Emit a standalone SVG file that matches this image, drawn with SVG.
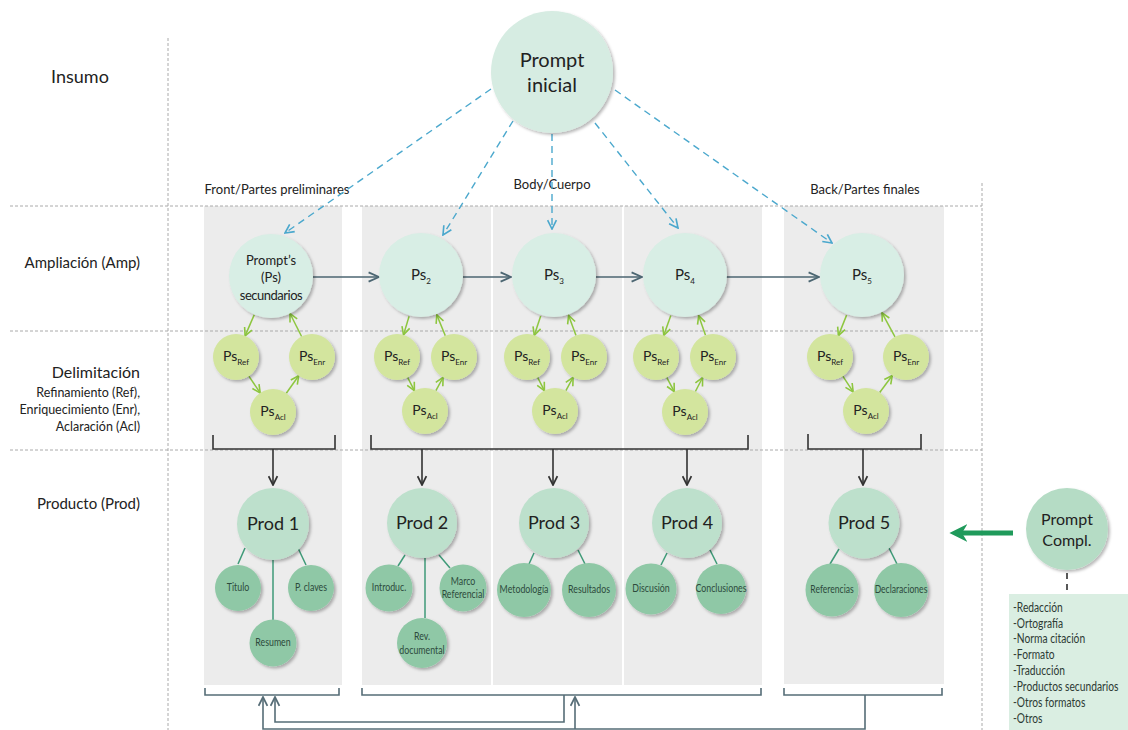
<svg xmlns="http://www.w3.org/2000/svg" width="1128" height="730" viewBox="0 0 1128 730">
<defs>
<style>
text{font-family:Lato,"Open Sans","Liberation Sans",sans-serif;fill:#222}
.lbl{font-size:15px;text-anchor:end}
.col{font-size:13px;text-anchor:middle}
.grid{stroke:#aaa;stroke-width:1;stroke-dasharray:3 2;fill:none}
.bg{fill:#ececec}
.ps{fill:#d8eee5}
.lime{fill:#d3e59e}
.prod{fill:#bde0cc}
.sub{fill:#8fc8a6}
.blue{stroke:#4ba8cd;stroke-width:1.4;stroke-dasharray:7 5;fill:none;marker-end:url(#mBlue)}
.slate{stroke:#4c6672;stroke-width:1.6;fill:none;marker-end:url(#mSlate)}
.lg{stroke:#8dc63f;stroke-width:1.5;fill:none;marker-end:url(#mLime)}
.teal{stroke:#3f9a78;stroke-width:1.5;fill:none}
.brk{stroke:#333;stroke-width:1.6;fill:none}
.down{stroke:#333;stroke-width:1.6;fill:none;marker-end:url(#mDark)}
.bot{stroke:#566d77;stroke-width:1.6;fill:none}
.up{stroke:#566d77;stroke-width:1.6;fill:none;marker-end:url(#mBot)}
.pst{font-size:15px;text-anchor:middle}
.sm{font-size:8px}
.subt{font-size:11px;text-anchor:middle;fill:#2d4a3c}
.prodt{font-size:18px;text-anchor:middle}
.box{font-size:12.5px;fill:#2d3a34}
</style>
<filter id="sh" x="-20%" y="-20%" width="150%" height="150%">
<feDropShadow dx="2" dy="2" stdDeviation="1.8" flood-color="#000" flood-opacity="0.28"/>
</filter>
<marker id="mBlue" viewBox="0 0 10 10" refX="9" refY="5" markerWidth="11" markerHeight="11" markerUnits="userSpaceOnUse" orient="auto"><path d="M1,1 L9,5 L1,9" fill="none" stroke="#4ba8cd" stroke-width="1.5"/></marker>
<marker id="mSlate" viewBox="0 0 10 10" refX="9" refY="5" markerWidth="13" markerHeight="13" markerUnits="userSpaceOnUse" orient="auto"><path d="M1,1.5 L9,5 L1,8.5" fill="none" stroke="#4c6672" stroke-width="1.4"/></marker>
<marker id="mLime" viewBox="0 0 10 10" refX="9" refY="5" markerWidth="10" markerHeight="10" markerUnits="userSpaceOnUse" orient="auto"><path d="M1,1 L9,5 L1,9" fill="none" stroke="#8dc63f" stroke-width="1.6"/></marker>
<marker id="mDark" viewBox="0 0 10 10" refX="9" refY="5" markerWidth="11" markerHeight="11" markerUnits="userSpaceOnUse" orient="auto"><path d="M1,1 L9,5 L1,9" fill="none" stroke="#333" stroke-width="1.6"/></marker>
<marker id="mBot" viewBox="0 0 10 10" refX="9" refY="5" markerWidth="11" markerHeight="11" markerUnits="userSpaceOnUse" orient="auto"><path d="M1,1 L9,5 L1,9" fill="none" stroke="#566d77" stroke-width="1.6"/></marker>
<marker id="mGreen" viewBox="0 0 10 10" refX="3" refY="5" markerWidth="18" markerHeight="18" markerUnits="userSpaceOnUse" orient="auto"><path d="M0,0 L10,5 L0,10 L3,5 Z" fill="#1f9a5b"/></marker>
</defs>

<rect width="1128" height="730" fill="#fff"/>

<g id="backgrounds">
<rect class="bg" x="204" y="206" width="138" height="479"/>
<rect class="bg" x="362" y="206" width="129" height="479"/>
<rect class="bg" x="493" y="206" width="129" height="479"/>
<rect class="bg" x="624" y="206" width="138" height="479"/>
<rect class="bg" x="784" y="206" width="160" height="478"/>
</g>

<g id="grid">
<line class="grid" x1="168" y1="38" x2="168" y2="730"/>
<line class="grid" x1="982" y1="183" x2="982" y2="730"/>
<line class="grid" x1="10" y1="206" x2="982" y2="206"/>
<line class="grid" x1="10" y1="331" x2="982" y2="331"/>
<line class="grid" x1="10" y1="450" x2="982" y2="450"/>
</g>

<g id="row-labels">
<text x="80" y="83" style="font-size:18px;text-anchor:middle">Insumo</text>
<text class="lbl" x="140" y="268">Ampliación (Amp)</text>
<text class="lbl" x="140" y="378" style="font-size:16px">Delimitación</text>
<text class="lbl" x="140" y="397" style="font-size:12.5px">Refinamiento (Ref),</text>
<text class="lbl" x="140" y="414" style="font-size:12.5px">Enriquecimiento (Enr),</text>
<text class="lbl" x="140" y="431" style="font-size:12.5px">Aclaración (Acl)</text>
<text class="lbl" x="140" y="509">Producto (Prod)</text>
</g>

<g id="column-labels">
<text class="col" x="277" y="194">Front/Partes preliminares</text>
<text class="col" x="552" y="189">Body/Cuerpo</text>
<text class="col" x="865" y="194">Back/Partes finales</text>
</g>

<g id="connectors">
<line class="blue" x1="491" y1="89" x2="285" y2="233"/>
<line class="blue" x1="513" y1="121" x2="443" y2="235"/>
<line class="blue" x1="552" y1="134" x2="552" y2="229"/>
<line class="blue" x1="595" y1="123" x2="678" y2="228"/>
<line class="blue" x1="615" y1="90" x2="832" y2="243"/>

<line class="slate" x1="313" y1="277" x2="379" y2="277"/>
<line class="slate" x1="463" y1="277" x2="511" y2="277"/>
<line class="slate" x1="596" y1="277" x2="642" y2="277"/>
<line class="slate" x1="726" y1="277" x2="819" y2="277"/>

<line class="lg" x1="254.3" y1="314.6" x2="245.1" y2="335.9"/>
<line class="lg" x1="301.6" y1="336.5" x2="290" y2="313.5"/>
<line class="lg" x1="248.8" y1="376.1" x2="260.2" y2="392.9"/>
<line class="lg" x1="286.3" y1="393.2" x2="298.7" y2="375.8"/>

<line class="lg" x1="409.1" y1="316.3" x2="403.5" y2="334.9"/>
<line class="lg" x1="445.3" y1="335.7" x2="436.8" y2="314.9"/>
<line class="lg" x1="407.6" y1="377.4" x2="414.4" y2="390.6"/>
<line class="lg" x1="435.9" y1="390.7" x2="443.1" y2="377.3"/>

<line class="lg" x1="540.7" y1="315.9" x2="534.3" y2="335.2"/>
<line class="lg" x1="576" y1="335.4" x2="568.6" y2="315.4"/>
<line class="lg" x1="537.6" y1="377.4" x2="544.4" y2="390.6"/>
<line class="lg" x1="565.9" y1="390.7" x2="573.1" y2="377.3"/>

<line class="lg" x1="670.8" y1="315.6" x2="663.8" y2="335.3"/>
<line class="lg" x1="705.5" y1="335.3" x2="698.7" y2="315.7"/>
<line class="lg" x1="666.7" y1="377.3" x2="674.3" y2="391.7"/>
<line class="lg" x1="695.4" y1="391.5" x2="702.6" y2="377.5"/>

<line class="lg" x1="846.6" y1="315.1" x2="838.4" y2="335.6"/>
<line class="lg" x1="895" y1="336.8" x2="882" y2="312.9"/>
<line class="lg" x1="842.8" y1="376.1" x2="853.2" y2="391.9"/>
<line class="lg" x1="879.7" y1="392.5" x2="892.3" y2="375.5"/>

<path class="brk" d="M213,435 V449 H335 V435"/>
<path class="brk" d="M371,435 V449 H748 V435"/>
<path class="brk" d="M808,434 V449 H921 V434"/>
<line class="down" x1="273" y1="449" x2="273" y2="485"/>
<line class="down" x1="422" y1="449" x2="422" y2="485"/>
<line class="down" x1="553" y1="449" x2="553" y2="485"/>
<line class="down" x1="687" y1="449" x2="687" y2="485"/>
<line class="down" x1="863" y1="449" x2="863" y2="485"/>

<line class="teal" x1="245" y1="548" x2="238" y2="564"/>
<line class="teal" x1="298" y1="548" x2="306" y2="565"/>
<line class="teal" x1="273" y1="560" x2="273" y2="620"/>
<line class="teal" x1="405" y1="555" x2="398" y2="566"/>
<line class="teal" x1="439" y1="555" x2="450" y2="568"/>
<line class="teal" x1="425" y1="558" x2="425" y2="618"/>
<line class="teal" x1="534" y1="553" x2="529" y2="564"/>
<line class="teal" x1="578" y1="550" x2="585" y2="564"/>
<line class="teal" x1="667" y1="553" x2="661" y2="565"/>
<line class="teal" x1="710" y1="550" x2="717" y2="564"/>
<line class="teal" x1="839" y1="549" x2="830" y2="564"/>
<line class="teal" x1="889" y1="548" x2="897" y2="564"/>

<line x1="1013" y1="533" x2="962" y2="533" stroke="#1f9a5b" stroke-width="5" marker-end="url(#mGreen)"/>
<line x1="1067" y1="573" x2="1067" y2="596" stroke="#222" stroke-width="1.5" stroke-dasharray="6 5"/>

<path class="bot" d="M205,688 V695 H339 V688"/>
<path class="bot" d="M362,688 V695 H761 V688"/>
<path class="bot" d="M784,688 V695 H942 V688"/>
<path class="up" d="M564,695 V722 H275 V697"/>
<path class="up" d="M865,695 V729 H263 V697"/>
<line class="up" x1="575" y1="729" x2="575" y2="697"/>
</g>

<g id="prompt-inicial">
<circle cx="552" cy="72" r="61" fill="#d6ece2" filter="url(#sh)"/>
<text x="552" y="67" style="font-size:20px;text-anchor:middle">Prompt</text>
<text x="552" y="92" style="font-size:20px;text-anchor:middle">inicial</text>
</g>

<g id="ps1">
<circle class="ps" cx="271" cy="276" r="42" filter="url(#sh)"/>
<text x="271" y="265" style="font-size:13px;text-anchor:middle">Prompt’s</text>
<text x="271" y="282" style="font-size:13px;text-anchor:middle">(Ps)</text>
<text x="271" y="300" style="font-size:13px;text-anchor:middle;letter-spacing:-0.5px">secundarios</text>
</g>
<g id="ps2"><circle class="ps" cx="421" cy="275" r="42" filter="url(#sh)"/><text class="pst" x="421" y="280">Ps<tspan class="sm" dy="4">2</tspan></text></g>
<g id="ps3"><circle class="ps" cx="554" cy="275" r="42" filter="url(#sh)"/><text class="pst" x="554" y="280">Ps<tspan class="sm" dy="4">3</tspan></text></g>
<g id="ps4"><circle class="ps" cx="685" cy="275" r="42" filter="url(#sh)"/><text class="pst" x="685" y="280">Ps<tspan class="sm" dy="4">4</tspan></text></g>
<g id="ps5"><circle class="ps" cx="862" cy="275" r="42" filter="url(#sh)"/><text class="pst" x="862" y="280">Ps<tspan class="sm" dy="4">5</tspan></text></g>

<g id="delim1">
<circle class="lime" cx="236" cy="357" r="23" filter="url(#sh)"/><text class="pst" x="236" y="361" style="font-size:14px">Ps<tspan class="sm" dy="4">Ref</tspan></text>
<circle class="lime" cx="312" cy="357" r="23" filter="url(#sh)"/><text class="pst" x="312" y="361" style="font-size:14px">Ps<tspan class="sm" dy="4">Enr</tspan></text>
<circle class="lime" cx="273" cy="412" r="23" filter="url(#sh)"/><text class="pst" x="273" y="416" style="font-size:14px">Ps<tspan class="sm" dy="4">Acl</tspan></text>
</g>
<g id="delim2">
<circle class="lime" cx="397" cy="357" r="23" filter="url(#sh)"/><text class="pst" x="397" y="361" style="font-size:14px">Ps<tspan class="sm" dy="4">Ref</tspan></text>
<circle class="lime" cx="454" cy="357" r="23" filter="url(#sh)"/><text class="pst" x="454" y="361" style="font-size:14px">Ps<tspan class="sm" dy="4">Enr</tspan></text>
<circle class="lime" cx="425" cy="411" r="23" filter="url(#sh)"/><text class="pst" x="425" y="415" style="font-size:14px">Ps<tspan class="sm" dy="4">Acl</tspan></text>
</g>
<g id="delim3">
<circle class="lime" cx="527" cy="357" r="23" filter="url(#sh)"/><text class="pst" x="527" y="361" style="font-size:14px">Ps<tspan class="sm" dy="4">Ref</tspan></text>
<circle class="lime" cx="584" cy="357" r="23" filter="url(#sh)"/><text class="pst" x="584" y="361" style="font-size:14px">Ps<tspan class="sm" dy="4">Enr</tspan></text>
<circle class="lime" cx="555" cy="411" r="23" filter="url(#sh)"/><text class="pst" x="555" y="415" style="font-size:14px">Ps<tspan class="sm" dy="4">Acl</tspan></text>
</g>
<g id="delim4">
<circle class="lime" cx="656" cy="357" r="23" filter="url(#sh)"/><text class="pst" x="656" y="361" style="font-size:14px">Ps<tspan class="sm" dy="4">Ref</tspan></text>
<circle class="lime" cx="713" cy="357" r="23" filter="url(#sh)"/><text class="pst" x="713" y="361" style="font-size:14px">Ps<tspan class="sm" dy="4">Enr</tspan></text>
<circle class="lime" cx="685" cy="412" r="23" filter="url(#sh)"/><text class="pst" x="685" y="416" style="font-size:14px">Ps<tspan class="sm" dy="4">Acl</tspan></text>
</g>
<g id="delim5">
<circle class="lime" cx="830" cy="357" r="23" filter="url(#sh)"/><text class="pst" x="830" y="361" style="font-size:14px">Ps<tspan class="sm" dy="4">Ref</tspan></text>
<circle class="lime" cx="906" cy="357" r="23" filter="url(#sh)"/><text class="pst" x="906" y="361" style="font-size:14px">Ps<tspan class="sm" dy="4">Enr</tspan></text>
<circle class="lime" cx="866" cy="411" r="23" filter="url(#sh)"/><text class="pst" x="866" y="415" style="font-size:14px">Ps<tspan class="sm" dy="4">Acl</tspan></text>
</g>

<g id="prod1">
<circle class="prod" cx="273" cy="524" r="36" filter="url(#sh)"/><text class="prodt" x="273" y="530">Prod 1</text>
<circle class="sub" cx="238" cy="588" r="23" filter="url(#sh)"/><text class="subt" transform="translate(238,591) scale(0.8,1)">Titulo</text>
<circle class="sub" cx="311" cy="588" r="23" filter="url(#sh)"/><text class="subt" transform="translate(311,591) scale(0.8,1)">P. claves</text>
<circle class="sub" cx="273" cy="643" r="23.5" filter="url(#sh)"/><text class="subt" transform="translate(273,646) scale(0.8,1)">Resumen</text>
</g>
<g id="prod2">
<circle class="prod" cx="422" cy="523" r="35" filter="url(#sh)"/><text class="prodt" x="422" y="529">Prod 2</text>
<circle class="sub" cx="389" cy="588" r="23.5" filter="url(#sh)"/><text class="subt" transform="translate(389,591) scale(0.8,1)">Introduc.</text>
<circle class="sub" cx="463" cy="588" r="23.5" filter="url(#sh)"/><text class="subt" transform="translate(463,585) scale(0.8,1)">Marco</text><text class="subt" transform="translate(463,598) scale(0.8,1)">Referencial</text>
<circle class="sub" cx="422" cy="643" r="25" filter="url(#sh)"/><text class="subt" transform="translate(422,640) scale(0.8,1)">Rev.</text><text class="subt" transform="translate(422,654) scale(0.8,1)">documental</text>
</g>
<g id="prod3">
<circle class="prod" cx="554" cy="523" r="35" filter="url(#sh)"/><text class="prodt" x="554" y="529">Prod 3</text>
<circle class="sub" cx="524" cy="590" r="27" filter="url(#sh)"/><text class="subt" transform="translate(524,593) scale(0.8,1)">Metodología</text>
<circle class="sub" cx="589" cy="590" r="27" filter="url(#sh)"/><text class="subt" transform="translate(589,593) scale(0.8,1)">Resultados</text>
</g>
<g id="prod4">
<circle class="prod" cx="687" cy="523" r="35" filter="url(#sh)"/><text class="prodt" x="687" y="529">Prod 4</text>
<circle class="sub" cx="651" cy="589" r="25.5" filter="url(#sh)"/><text class="subt" transform="translate(651,592) scale(0.8,1)">Discusión</text>
<circle class="sub" cx="721" cy="589" r="25" filter="url(#sh)"/><text class="subt" transform="translate(721,592) scale(0.8,1)">Conclusiones</text>
</g>
<g id="prod5">
<circle class="prod" cx="864" cy="523" r="35.5" filter="url(#sh)"/><text class="prodt" x="864" y="529">Prod 5</text>
<circle class="sub" cx="832" cy="590" r="26.5" filter="url(#sh)"/><text class="subt" transform="translate(832,593) scale(0.78,1)">Referencias</text>
<circle class="sub" cx="901" cy="590" r="27" filter="url(#sh)"/><text class="subt" transform="translate(901,593) scale(0.78,1)">Declaraciones</text>
</g>

<g id="prompt-compl">
<circle cx="1067" cy="529" r="41" fill="#b5dcc5" filter="url(#sh)"/>
<text x="1067" y="525" style="font-size:16px;text-anchor:middle">Prompt</text>
<text x="1067" y="546" style="font-size:16px;text-anchor:middle">Compl.</text>
</g>

<g id="compl-list">
<rect x="1009" y="594" width="119" height="136" fill="#daeee2"/>
<g transform="translate(1013,0) scale(0.82,1)">
<text class="box" x="0" y="612">-Redacción</text>
<text class="box" x="0" y="628">-Ortografía</text>
<text class="box" x="0" y="643">-Norma citación</text>
<text class="box" x="0" y="659">-Formato</text>
<text class="box" x="0" y="675">-Traducción</text>
<text class="box" x="0" y="691">-Productos secundarios</text>
<text class="box" x="0" y="707">-Otros formatos</text>
<text class="box" x="0" y="723">-Otros</text>
</g>
</g>
</svg>
